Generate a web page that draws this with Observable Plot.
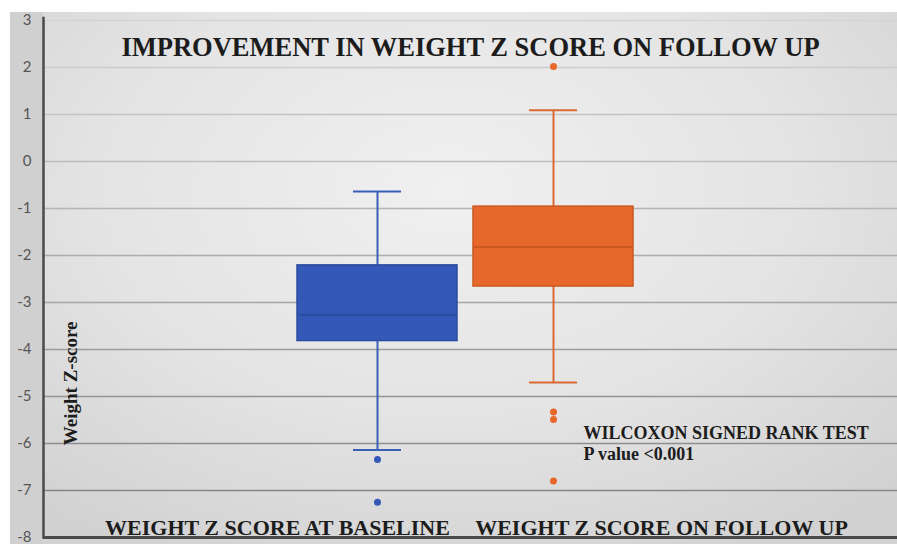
<!DOCTYPE html>
<html>
<head>
<meta charset="utf-8">
<script src="https://cdn.jsdelivr.net/npm/d3@7"></script>
<script src="https://cdn.jsdelivr.net/npm/@observablehq/plot@0.6"></script>
<style>
  html, body { margin: 0; padding: 0; background: #ffffff; }
  #chart svg { display: block; }
</style>
</head>
<body>
<div id="chart"></div>
<script>
// ---- data ----
const categories = ["WEIGHT Z SCORE AT BASELINE", "WEIGHT Z SCORE ON FOLLOW UP"];
const q1 = [-3.82, -2.66];
const median = [-3.26, -1.82];
const q3 = [-2.21, -0.96];
const whiskerLow = [-6.14, -4.70];
const whiskerHigh = [-0.64, 1.09];
const outliersBaseline = [-6.34, -7.25];
const outliersFollowUp = [2.02, -5.33, -5.49, -6.80];
const yTicks = [-8, -7, -6, -5, -4, -3, -2, -1, 0, 1, 2, 3];
const title = "IMPROVEMENT IN WEIGHT Z SCORE ON FOLLOW UP";
const yLabel = "Weight Z-score";
const testNote = "WILCOXON SIGNED RANK TEST\nP value <0.001";

const fills = ["#3358b8", "#e8672a"];
const strokes = ["#2b4c9e", "#c9591f"];
const lines = ["#3a5fb8", "#d96a33"];

const boxes = categories.map((c, i) => ({
  cat: c, q1: q1[i], median: median[i], q3: q3[i],
  lo: whiskerLow[i], hi: whiskerHigh[i],
  fill: fills[i], stroke: strokes[i], line: lines[i]
}));
const outliers = [
  ...outliersBaseline.map(v => ({cat: categories[0], v, fill: fills[0]})),
  ...outliersFollowUp.map(v => ({cat: categories[1], v, fill: fills[1]}))
];

const W = 897, H = 544, ML = 43, MR = 0, MT = 20, MB = 7;
const serif = "'Liberation Serif', 'Times New Roman', serif";
const ink = "#1c1c1c";

const chart = Plot.plot({
  width: W,
  height: H,
  marginLeft: ML,
  marginRight: MR,
  marginTop: MT,
  marginBottom: MB,
  style: {
    overflow: "visible",
    background: "linear-gradient(to bottom, #ffffff 0 12px, transparent 12px), " +
      "linear-gradient(to right, #ffffff 0 10px, #d0d0d0 10px 43px, transparent 43px), " +
      "radial-gradient(ellipse 70% 75% at 50% 35%, #f0f0f0 0%, #e4e4e4 55%, #d2d2d2 100%)"
  },
  x: {type: "band", domain: categories, paddingInner: 0.0909, paddingOuter: 1.471, align: 0.49, axis: null},
  y: {domain: [-8, 3]},
  color: {type: "linear", domain: [-8, 3], range: ["#7e7e7e", "#d4d4d4"]},
  marks: [
    Plot.ruleY(yTicks, {y: d => d, stroke: d => d, strokeWidth: 1.6}),
    Plot.axisY({ticks: yTicks, tickSize: 0, tickPadding: 12, fontSize: 15, fill: "#555",
                fontFamily: "Lato, 'Open Sans', sans-serif", label: null, tickFormat: d => String(d)}),
    // whiskers
    Plot.ruleX(boxes, {x: "cat", y1: "lo", y2: "hi", stroke: "line", strokeWidth: 2}),
    Plot.tickY(boxes, {x: "cat", y: "lo", stroke: "line", strokeWidth: 2, insetLeft: 56, insetRight: 56}),
    Plot.tickY(boxes, {x: "cat", y: "hi", stroke: "line", strokeWidth: 2, insetLeft: 56, insetRight: 56}),
    // boxes
    Plot.barY(boxes, {x: "cat", y1: "q1", y2: "q3", fill: "fill", stroke: "stroke", strokeWidth: 1.5}),
    Plot.tickY(boxes, {x: "cat", y: "median", stroke: "stroke", strokeWidth: 2}),
    // outliers
    Plot.dot(outliers, {x: "cat", y: "v", fill: "fill", r: 3.5, stroke: null}),
    // axis lines: bottom and left (left rule has no x, so it is centred; shift it to the frame's left edge)
    Plot.ruleY([-8], {stroke: "#4a4a4a", strokeWidth: 3}),
    Plot.ruleX([{}], {x: null, y1: () => -8.03, y2: () => 3.07, stroke: "#4a4a4a", strokeWidth: 2.5,
      dx: ML - (ML + W - MR) / 2}),
    // title
    Plot.text([title], {frameAnchor: "top", dy: 27, lineAnchor: "middle", text: d => d,
      fontFamily: serif, fontWeight: "bold", fontSize: 26.5, fill: ink}),
    // category labels (bottom)
    Plot.text([categories[0]], {x: d => d, y: [-7.8], text: d => d, dx: -100, lineAnchor: "middle",
      fontFamily: serif, fontWeight: "bold", fontSize: 22, fill: ink}),
    Plot.text([categories[1]], {x: d => d, y: [-7.8], text: d => d, dx: 108, lineAnchor: "middle",
      fontFamily: serif, fontWeight: "bold", fontSize: 22, fill: ink}),
    // test note
    Plot.text([testNote], {x: [categories[1]], y: [-5.98], text: d => d, dx: 30, textAnchor: "start",
      lineAnchor: "middle", lineHeight: 1.15, fontFamily: serif, fontWeight: "bold", fontSize: 18, fill: ink}),
    // y label
    Plot.text([yLabel], {frameAnchor: "left", y: [-4.72], text: d => d, dx: 27, rotate: -90,
      textAnchor: "middle", lineAnchor: "middle", fontFamily: serif, fontWeight: "bold", fontSize: 19, fill: ink})
  ]
});
document.getElementById("chart").append(chart);
</script>
</body>
</html>
